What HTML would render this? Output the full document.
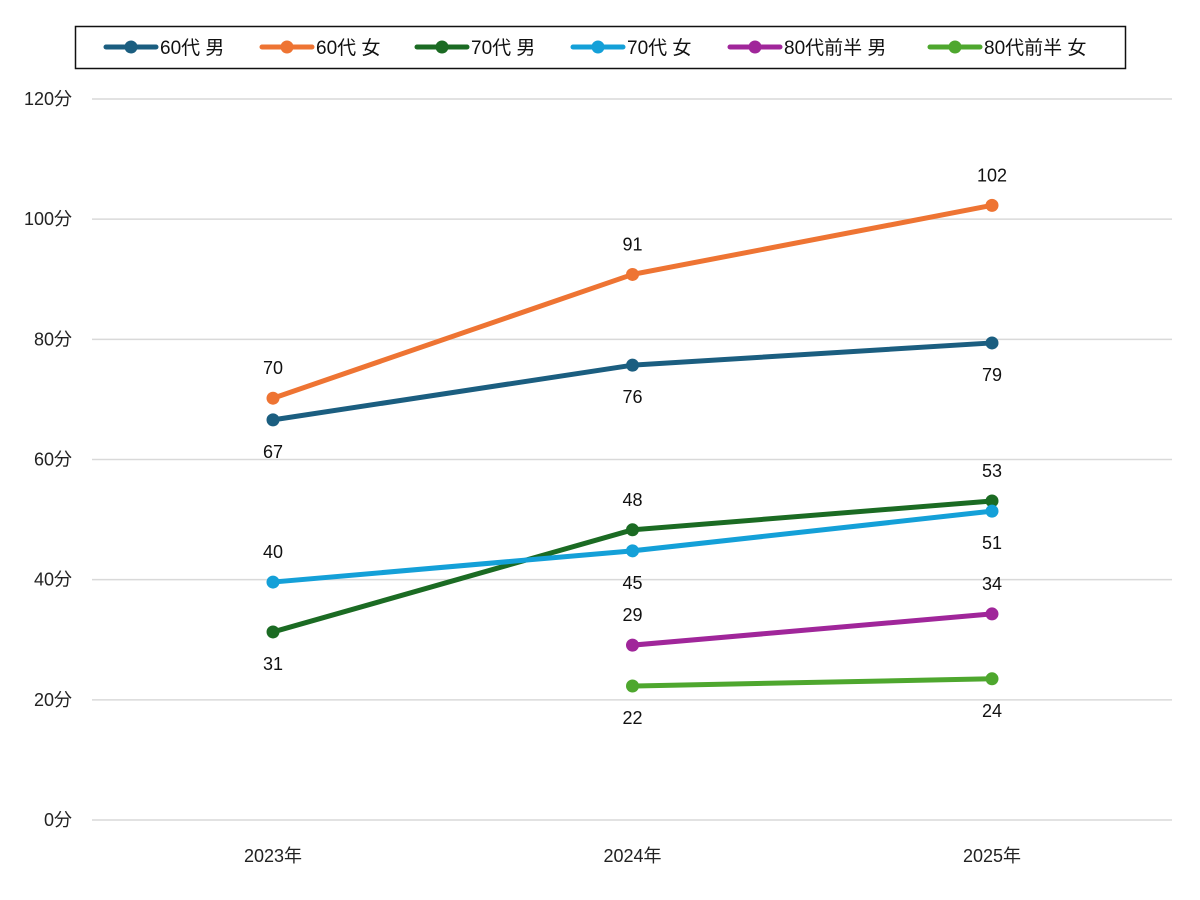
<!DOCTYPE html>
<html><head><meta charset="utf-8"><style>
html,body{margin:0;padding:0;background:#fff;}
svg{display:block;font-family:"Liberation Sans","Noto Sans CJK JP",sans-serif;}
</style></head><body>
<svg id="chart" width="1200" height="900" viewBox="0 0 1200 900">
<rect x="0" y="0" width="1200" height="900" fill="#fff"/>
<g id="grid"></g>
<g id="yticks"></g>
<g id="xticks"></g>
<g id="series"></g>
<g id="legend"></g>
</svg>
<script>
const categories = ["2023年","2024年","2025年"];
const seriesNames = ["60代 男","60代 女","70代 男","70代 女","80代前半 男","80代前半 女"];
const seriesColors = ["#1b5e80","#ee7433","#1b6b23","#14a0d8","#a0269a","#4ea72e"];
const s60m = [66.6, 75.7, 79.4];
const s60f = [70.2, 90.8, 102.3];
const s70m = [31.3, 48.3, 53.1];
const s70f = [39.6, 44.8, 51.4];
const s80m = [null, 29.1, 34.3];
const s80f = [null, 22.3, 23.5];
const seriesValues = [s60m, s60f, s70m, s70f, s80m, s80f];
const labelSide = [[1,1,1],[-1,-1,-1],[1,-1,-1],[-1,1,1],[-1,-1,-1],[1,1,1]];
const yTicks = [0,20,40,60,80,100,120];
const yTickLabels = ["0分","20分","40分","60分","80分","100分","120分"];

const NS="http://www.w3.org/2000/svg";
const y0=820, yTop=99, yMax=120;
const yScale=v=>y0-(v/yMax)*(y0-yTop);
const xScale=i=>273+i*359.5;
function mk(tag,attrs,parent){const e=document.createElementNS(NS,tag);for(const k in attrs)e.setAttribute(k,attrs[k]);parent.appendChild(e);return e;}

const grid=document.getElementById('grid'), yt=document.getElementById('yticks'), xt=document.getElementById('xticks');
yTicks.forEach((t,i)=>{
  const l=mk('line',{x1:92,x2:1172,y1:yScale(t),y2:yScale(t),stroke:'#d9d9d9','stroke-width':1.5},grid);
  
  
  const tx=mk('text',{x:72,y:yScale(t)+6,'text-anchor':'end','font-size':18,fill:'#222'},yt);
  tx.textContent=yTickLabels[i];
  
  
});
categories.forEach((c,i)=>{
  const tx=mk('text',{x:xScale(i),y:862,'text-anchor':'middle','font-size':18,fill:'#222'},xt);
  tx.textContent=c;
  
  
});

const sg=document.getElementById('series');
seriesValues.forEach((vals,si)=>{
  const g=mk('g',{},sg);
  
  
  const pts=[];
  vals.forEach((v,i)=>{if(v!==null)pts.push([xScale(i),yScale(v),v,i]);});
  const p=mk('polyline',{points:pts.map(p=>p[0]+','+p[1]).join(' '),fill:'none',stroke:seriesColors[si],'stroke-width':5,'stroke-linejoin':'round','stroke-linecap':'round'},g);
  
  
  pts.forEach(pt=>{
    const c=mk('circle',{cx:pt[0],cy:pt[1],r:6.5,fill:seriesColors[si]},g);
    
    
    const side=labelSide[si][pt[3]];
    const t=mk('text',{x:pt[0],y:pt[1]+(side>0?38:-24),'text-anchor':'middle','font-size':18,fill:'#111'},g);
    t.textContent=Math.round(pt[2]);
    
    
  });
});

const lg=document.getElementById('legend');
const box=mk('rect',{x:75.5,y:26.5,width:1050,height:42,fill:'#fff',stroke:'#111','stroke-width':1.5},lg);


const legendX=[106,262,417,573,730,930];
seriesNames.forEach((n,i)=>{
  const g=mk('g',{},lg);
  
  
  const x=legendX[i];
  mk('line',{x1:x,x2:x+50,y1:47,y2:47,stroke:seriesColors[i],'stroke-width':5,'stroke-linecap':'round'},g);
  mk('circle',{cx:x+25,cy:47,r:6.5,fill:seriesColors[i]},g);
  const t=mk('text',{x:x+54,y:54,'font-size':19,fill:'#111'},g);
  t.textContent=n;
});
</script>
</body></html>
